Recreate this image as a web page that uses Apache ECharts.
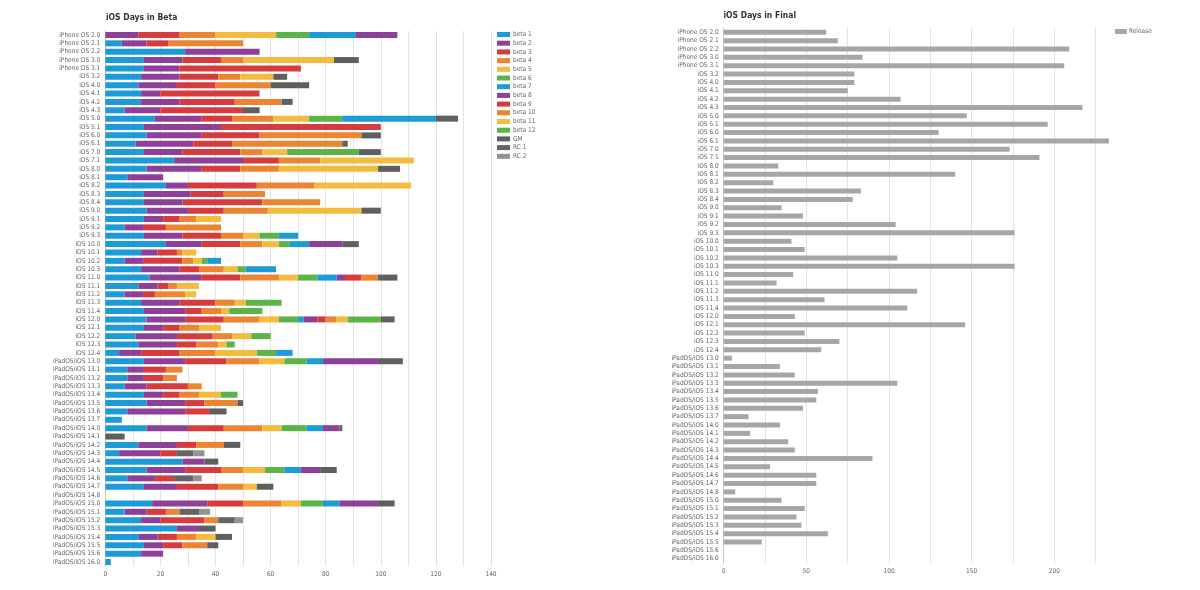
<!DOCTYPE html>
<html>
<head>
<meta charset="utf-8">
<script src="https://cdn.jsdelivr.net/npm/echarts@6/dist/echarts.min.js"></script>
<style>
html,body{margin:0;padding:0;background:#fff;}
#chart{width:1200px;height:590px;}
</style>
</head>
<body>
<div id="chart"></div>
<script>
var categories = ["iPhone OS 2.0","iPhone OS 2.1","iPhone OS 2.2","iPhone OS 3.0","iPhone OS 3.1","iOS 3.2","iOS 4.0","iOS 4.1","iOS 4.2","iOS 4.3",
"iOS 5.0","iOS 5.1","iOS 6.0","iOS 6.1","iOS 7.0","iOS 7.1","iOS 8.0","iOS 8.1","iOS 8.2","iOS 8.3",
"iOS 8.4","iOS 9.0","iOS 9.1","iOS 9.2","iOS 9.3","iOS 10.0","iOS 10.1","iOS 10.2","iOS 10.3","iOS 11.0",
"iOS 11.1","iOS 11.2","iOS 11.3","iOS 11.4","iOS 12.0","iOS 12.1","iOS 12.2","iOS 12.3","iOS 12.4","iPadOS/iOS 13.0",
"iPadOS/iOS 13.1","iPadOS/iOS 13.2","iPadOS/iOS 13.3","iPadOS/iOS 13.4","iPadOS/iOS 13.5","iPadOS/iOS 13.6","iPadOS/iOS 13.7","iPadOS/iOS 14.0","iPadOS/iOS 14.1","iPadOS/iOS 14.2",
"iPadOS/iOS 14.3","iPadOS/iOS 14.4","iPadOS/iOS 14.5","iPadOS/iOS 14.6","iPadOS/iOS 14.7","iPadOS/iOS 14.8","iPadOS/iOS 15.0","iPadOS/iOS 15.1","iPadOS/iOS 15.2","iPadOS/iOS 15.3",
"iPadOS/iOS 15.4","iPadOS/iOS 15.5","iPadOS/iOS 15.6","iPadOS/iOS 16.0"];

var beta1 = [0,6,29,14,14,13,12,13,13,7, 18,14,15,11,14,25,15,8,22,14, 14,15,14,7,14,22,13,7,13,16, 12,7,13,14,15,14,11,12,5,14, 8,8,7,14,15,8,6,15,0,12, 5,28,15,8,14,0,17,7,13,26, 12,14,13,2];
var beta2 = [12,9,27,14,13,14,14,7,14,13, 17,28,20,21,14,25,20,13,8,17, 14,15,7,7,14,13,6,7,14,19, 7,7,14,15,14,7,15,14,8,15, 6,6,8,7,14,21,0,15,0,14, 15,8,14,10,12,0,20,8,7,8, 7,7,8,0];
var beta3 = [15,8,0,14,44,14,14,36,20,30, 11,58,21,14,21,13,14,0,25,12, 29,13,6,8,14,14,7,14,7,14, 4,4,13,6,14,6,13,7,14,15, 8,7,15,6,7,9,0,13,0,7, 6,0,13,7,15,0,13,7,16,0, 7,7,0,0];
var beta4 = [13,27,0,8,0,8,20,0,17,0, 15,0,37,40,8,15,14,0,21,15, 21,16,6,20,8,8,2,4,9,14, 3,11,7,7,13,7,7,8,13,12, 6,5,5,7,12,0,0,14,0,10, 0,0,8,0,9,0,14,5,5,0, 7,9,0,0];
var beta5 = [22,0,0,33,0,12,0,0,0,0, 13,0,0,0,9,34,36,0,35,0, 0,34,9,0,6,6,5,3,5,7, 8,4,4,3,7,8,7,3,15,9, 0,0,0,8,0,0,0,7,0,0, 0,0,8,0,5,0,7,0,0,0, 7,0,0,0];
var beta6 = [12,0,0,0,0,0,0,0,0,0, 12,0,0,0,26,0,0,0,0,0, 0,0,0,0,7,4,0,2,3,7, 0,0,13,12,7,0,7,3,7,8, 0,0,0,6,0,0,0,9,0,0, 0,0,7,0,0,0,8,0,0,0, 0,0,0,0];
var beta7 = [17,0,0,0,0,0,0,0,0,0, 34,0,0,0,0,0,0,0,0,0, 0,0,0,0,7,7,0,5,11,7, 0,0,0,0,2,0,0,0,6,6, 0,0,0,0,0,0,0,6,0,0, 0,0,6,0,0,0,6,0,0,0, 0,0,0,0];
var beta8 = [15,0,0,0,0,0,0,0,0,0, 0,0,0,0,0,0,0,0,0,0, 0,0,0,0,0,12,0,0,0,3, 0,0,0,0,5,0,0,0,0,20, 0,0,0,0,0,0,0,6,0,0, 0,0,7,0,0,0,14,0,0,0, 0,0,0,0];
var beta9 = [0,0,0,0,0,0,0,0,0,0, 0,0,0,0,0,0,0,0,0,0, 0,0,0,0,0,0,0,0,0,6, 0,0,0,0,3,0,0,0,0,0, 0,0,0,0,0,0,0,0,0,0, 0,0,0,0,0,0,0,0,0,0, 0,0,0,0];
var beta10 = [0,0,0,0,0,0,0,0,0,0, 0,0,0,0,0,0,0,0,0,0, 0,0,0,0,0,0,0,0,0,6, 0,0,0,0,4,0,0,0,0,0, 0,0,0,0,0,0,0,0,0,0, 0,0,0,0,0,0,0,0,0,0, 0,0,0,0];
var beta11 = [0,0,0,0,0,0,0,0,0,0, 0,0,0,0,0,0,0,0,0,0, 0,0,0,0,0,0,0,0,0,0, 0,0,0,0,4,0,0,0,0,0, 0,0,0,0,0,0,0,0,0,0, 0,0,0,0,0,0,0,0,0,0, 0,0,0,0];
var beta12 = [0,0,0,0,0,0,0,0,0,0, 0,0,0,0,0,0,0,0,0,0, 0,0,0,0,0,0,0,0,0,0, 0,0,0,0,12,0,0,0,0,0, 0,0,0,0,0,0,0,0,0,0, 0,0,0,0,0,0,0,0,0,0, 0,0,0,0];
var gm = [0,0,0,9,0,5,14,0,4,6, 8,0,7,2,8,0,8,0,0,0, 0,7,0,0,0,6,0,0,0,7, 0,0,0,0,5,0,0,0,0,9, 0,0,0,0,2,6,0,1,7,6, 0,5,6,0,6,0,6,0,0,6, 6,4,0,0];
var rc1 = [0,0,0,0,0,0,0,0,0,0, 0,0,0,0,0,0,0,0,0,0, 0,0,0,0,0,0,0,0,0,0, 0,0,0,0,0,0,0,0,0,0, 0,0,0,0,0,0,0,0,0,0, 6,0,0,7,0,0,0,7,6,0, 0,0,0,0];
var rc2 = [0,0,0,0,0,0,0,0,0,0, 0,0,0,0,0,0,0,0,0,0, 0,0,0,0,0,0,0,0,0,0, 0,0,0,0,0,0,0,0,0,0, 0,0,0,0,0,0,0,0,0,0, 4,0,0,3,0,0,0,4,3,0, 0,0,0,0];

var releaseDays = [62,69,209,84,206,79,79,75,107,217, 147,196,130,233,173,191,33,140,30,83, 78,35,48,104,176,41,49,105,176,42, 32,117,61,111,43,146,49,70,59,5, 34,43,105,57,56,48,15,34,16,39, 43,90,28,56,56,7,35,49,44,47, 63,23,0,0];

var betaTicks = [0,20,40,60,80,100,120,140];
var finalTicks = [0,50,100,150,200];

var FONT = "'DejaVu Sans Condensed','DejaVu Sans',sans-serif";
var stackNames = ['beta 1','beta 2','beta 3','beta 4','beta 5','beta 6','beta 7','beta 8','beta 9','beta 10','beta 11','beta 12','GM','RC 1','RC 2'];
var stackData = [beta1,beta2,beta3,beta4,beta5,beta6,beta7,beta8,beta9,beta10,beta11,beta12,gm,rc1,rc2];
var stackColors = ['#1c9bd7','#8e3f98','#d63b3e','#eb8531','#f5bb3e','#5cb449','#1c9bd7','#8e3f98','#d63b3e','#eb8531','#f5bb3e','#5cb449','#5f5f5f','#646464','#939393'];

var series = stackNames.map(function(n,i){
  return {name:n,type:'bar',stack:'beta',xAxisIndex:0,yAxisIndex:0,barWidth:6,
    itemStyle:{color:stackColors[i]},data:stackData[i]};
});
series.push({name:'Release',type:'bar',xAxisIndex:1,yAxisIndex:1,barWidth:5,itemStyle:{color:'#a6a6a6'},data:releaseDays});

var labelStyle = {fontFamily:FONT,fontSize:6.5,color:'#666'};

var chart = echarts.init(document.getElementById('chart'),null,{renderer:'canvas'});
chart.setOption({
  animation:false,
  backgroundColor:'#fff',
  title:[
    {text:'iOS Days in Beta',left:101,top:8,textStyle:{fontFamily:FONT,fontSize:8.5,fontWeight:'bold',color:'#333'}},
    {text:'iOS Days in Final',left:718.5,top:6.5,textStyle:{fontFamily:FONT,fontSize:8.5,fontWeight:'bold',color:'#333'}}
  ],
  legend:[
    {data:stackNames,orient:'vertical',left:497,top:30.5,padding:0,itemWidth:13,itemHeight:5,itemGap:0.7,icon:'rect',
      textStyle:{fontFamily:FONT,fontSize:6.5,color:'#666',lineHeight:8,padding:[0,0,0,-2]}},
    {data:['Release'],orient:'vertical',left:1115,top:27.5,padding:0,itemWidth:12,itemHeight:5,icon:'rect',
      textStyle:{fontFamily:FONT,fontSize:6.5,color:'#666',lineHeight:8,padding:[0,0,0,-3]}}
  ],
  grid:[
    {left:105.3,top:30.8,width:385.7,height:535.4,containLabel:false},
    {left:723.7,top:28.1,width:385.2,height:534.8,containLabel:false}
  ],
  xAxis:[
    {type:'value',gridIndex:0,min:0,max:140,interval:10,
      axisLine:{show:false},axisTick:{show:false},
      axisLabel:Object.assign({margin:5,formatter:function(v){return betaTicks.indexOf(v)>=0?String(v):'';}},labelStyle),
      splitLine:{show:true,lineStyle:{color:'#e3e3e3',width:1}}},
    {type:'value',gridIndex:1,min:0,max:233,interval:25,
      axisLine:{show:false},axisTick:{show:false},
      axisLabel:Object.assign({margin:5,formatter:function(v){return finalTicks.indexOf(v)>=0?String(v):'';}},labelStyle),
      splitLine:{show:true,showMaxLine:false,lineStyle:{color:'#e3e3e3',width:1}}}
  ],
  yAxis:[
    {type:'category',gridIndex:0,inverse:true,data:categories,
      axisLine:{show:true,lineStyle:{color:'#c8c8c8'}},axisTick:{show:false},
      axisLabel:Object.assign({margin:5,interval:0},labelStyle)},
    {type:'category',gridIndex:1,inverse:true,data:categories,
      axisLine:{show:true,lineStyle:{color:'#c8c8c8'}},axisTick:{show:false},
      axisLabel:Object.assign({margin:5,interval:0},labelStyle)}
  ],
  series:series
});
</script>
</body>
</html>
